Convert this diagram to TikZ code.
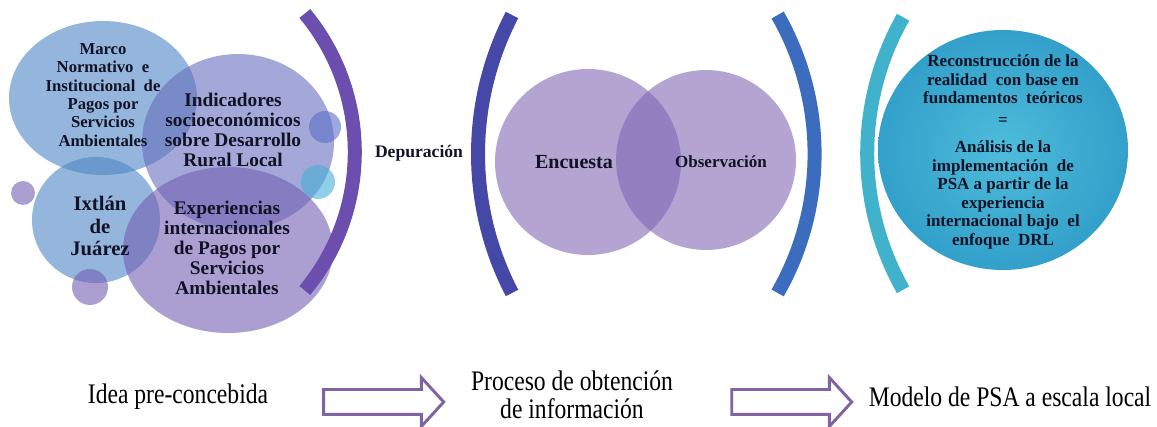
\documentclass[tikz,border=0pt]{standalone}
\usepackage{fontspec}
\setmainfont{Liberation Serif}
\usetikzlibrary{shapes.arrows}
\definecolor{cBlue}{RGB}{77,133,197}
\definecolor{cPeri}{RGB}{103,110,190}
\definecolor{cLav}{RGB}{115,95,180}
\definecolor{cVenn}{RGB}{128,104,180}
\definecolor{cSmallB}{RGB}{90,110,200}
\definecolor{cSmallC}{RGB}{70,175,215}
\definecolor{cArcA}{RGB}{108,78,174}
\definecolor{cArcB}{RGB}{70,72,168}
\definecolor{cArcC}{RGB}{60,108,190}
\definecolor{cArcD}{RGB}{64,178,204}
\definecolor{cArrow}{RGB}{128,100,162}
\definecolor{cTxt}{RGB}{18,18,38}
\definecolor{cCyanIn}{RGB}{78,188,218}
\definecolor{cCyanOut}{RGB}{50,160,202}
\tikzset{
  bubble/.style={fill opacity=0.6},
  bracket/.style={line width=10.5pt},
  btxt/.style={font=\bfseries, text=cTxt, align=center, inner sep=0pt},
  plain/.style={align=center, inner sep=0pt},
  blockarrow/.style={single arrow, draw=cArrow, line width=2.2pt, fill=white,
    inner ysep=8.25pt, inner xsep=0pt, single arrow head extend=9pt,
    single arrow tip angle=95, minimum height=90pt, anchor=center}
}
\begin{document}
\begin{tikzpicture}[x=0.75pt,y=-0.75pt]
\useasboundingbox (0,0) rectangle (1157,427);
% left cluster
\fill[cBlue,bubble] (103,98) ellipse [x radius=94, y radius=77];
\fill[cBlue,bubble] (96,220) ellipse [x radius=64, y radius=63];
\fill[cLav,bubble] (23,193) circle [radius=12];
\fill[cLav,bubble] (90,287) circle [radius=18];
\fill[cPeri,bubble] (238,142) ellipse [x radius=96, y radius=88];
\fill[cLav,bubble] (228,250) ellipse [x radius=105, y radius=83];
\fill[cSmallB,bubble] (325,127) circle [radius=16];
\fill[cSmallC,bubble] (318,182) circle [radius=17];
% brackets
\draw[bracket,cArcA] (138,152) ++(-39.7:216.8) arc[start angle=-39.7, end angle=39.7, radius=216.8];
\draw[bracket,cArcB] (779,154) ++(152.5:301) arc[start angle=152.5, end angle=207.5, radius=301];
\draw[bracket,cArcC] (535,154) ++(-29.8:279.6) arc[start angle=-29.8, end angle=29.8, radius=279.6];
\draw[bracket,cArcD] (1144,153.5) ++(150.5:276.8) arc[start angle=150.5, end angle=209.5, radius=276.8];
% venn
\fill[cVenn,bubble] (588,162) circle [radius=93];
\fill[cVenn,bubble] (706,160) circle [radius=90];
% right circle
\shade[inner color=cCyanIn, outer color=cCyanOut] (1003,150) ellipse [x radius=125, y radius=120];
% texts
\node[btxt, font=\bfseries\fontsize{12.5pt}{13.7pt}\selectfont] (marco) at (103,95)
  {Marco\\Normativo\ \ e\\Institucional\ \ de\\Pagos por\\Servicios\\Ambientales};
\node[btxt, font=\bfseries\fontsize{14.5pt}{15pt}\selectfont] (indic) at (233,130)
  {Indicadores\\socioeconómicos\\sobre Desarrollo\\Rural Local};
\node[btxt, font=\bfseries\fontsize{15.5pt}{16.9pt}\selectfont] (ixtlan) at (100,226)
  {Ixtlán\\de\\Juárez};
\node[btxt, font=\bfseries\fontsize{14.5pt}{15pt}\selectfont] (exper) at (227,248)
  {Experiencias\\internacionales\\de Pagos por\\Servicios\\Ambientales};
\node[btxt, font=\bfseries\fontsize{13.2pt}{14pt}\selectfont] (depur) at (419,153) {Depuración};
\node[btxt, font=\bfseries\fontsize{15pt}{16pt}\selectfont] (encuesta) at (574,162) {Encuesta};
\node[btxt, font=\bfseries\fontsize{12.75pt}{14pt}\selectfont] (observ) at (721,162) {Observación};
\node[btxt, font=\bfseries\fontsize{12.75pt}{13.9pt}\selectfont] (recon) at (1003,152)
  {Reconstrucción de la\\realidad\ \ con base en\\fundamentos\ \ teóricos\\[2.6pt]
   =\\[6.4pt]
   Análisis de la\\implementación\ \ de\\PSA a partir de la\\experiencia\\internacional bajo\ \ el\\enfoque\ \ DRL};
% bottom row
\node[plain] (idea) at (178,397) {\scalebox{1}[1.2]{\fontsize{17.7pt}{20pt}\selectfont Idea pre-concebida}};
\node[plain] (proceso) at (572,395) {\scalebox{1}[1.2]{\fontsize{17.7pt}{20pt}\selectfont Proceso de obtención}\\[5pt]\scalebox{1}[1.2]{\fontsize{17.7pt}{20pt}\selectfont de información}};
\node[plain] (modelo) at (1010,397) {\scalebox{1}[1.2]{\fontsize{17.7pt}{20pt}\selectfont Modelo de PSA a escala local}};
\node[blockarrow] (arrowA) at (378,402) {};
\node[blockarrow] (arrowB) at (786,402) {};
\end{tikzpicture}
\end{document}
